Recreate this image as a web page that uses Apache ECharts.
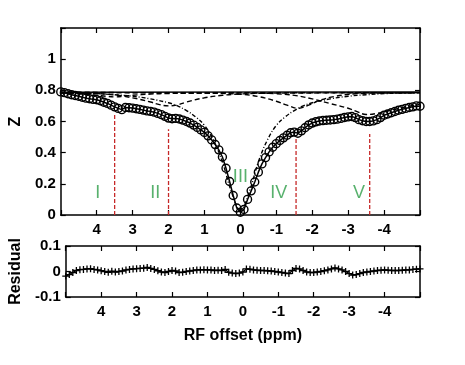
<!DOCTYPE html>
<html>
<head>
<meta charset="utf-8">
<script src="https://cdn.jsdelivr.net/npm/echarts@6/dist/echarts.min.js"></script>
<style>
  html, body { margin: 0; padding: 0; background: #fff; }
  #main { width: 465px; height: 365px; }
</style>
</head>
<body>
<div id="main"></div>
<script>
// RF offsets (ppm), sampled every 0.1 ppm from 5 to -5
var offsets = [5.0,4.9,4.8,4.7,4.6,4.5,4.4,4.3,4.2,4.1,4.0,3.9,3.8,3.7,3.6,3.5,3.4,3.3,3.2,3.1,
  3.0,2.9,2.8,2.7,2.6,2.5,2.4,2.3,2.2,2.1,2.0,1.9,1.8,1.7,1.6,1.5,1.4,1.3,1.2,1.1,
  1.0,0.9,0.8,0.7,0.6,0.5,0.4,0.3,0.2,0.1,0.0,-0.1,-0.2,-0.3,-0.4,-0.5,-0.6,-0.7,-0.8,-0.9,
  -1.0,-1.1,-1.2,-1.3,-1.4,-1.5,-1.6,-1.7,-1.8,-1.9,-2.0,-2.1,-2.2,-2.3,-2.4,-2.5,-2.6,-2.7,-2.8,-2.9,
  -3.0,-3.1,-3.2,-3.3,-3.4,-3.5,-3.6,-3.7,-3.8,-3.9,-4.0,-4.1,-4.2,-4.3,-4.4,-4.5,-4.6,-4.7,-4.8,-4.9,-5.0];

// measured Z spectrum (circles)
var zMeasured = [0.790,0.785,0.778,0.772,0.767,0.762,0.756,0.750,0.746,0.742,
  0.740,0.733,0.724,0.716,0.705,0.694,0.684,0.676,0.690,0.688,
  0.686,0.682,0.678,0.673,0.668,0.665,0.660,0.652,0.644,0.633,
  0.622,0.618,0.620,0.616,0.609,0.600,0.590,0.577,0.562,0.546,
  0.530,0.508,0.482,0.452,0.418,0.372,0.300,0.215,0.125,0.045,
  0.018,0.035,0.100,0.155,0.212,0.275,0.328,0.368,0.405,0.435,
  0.458,0.478,0.495,0.512,0.528,0.532,0.525,0.540,0.560,0.578,
  0.590,0.598,0.603,0.606,0.608,0.610,0.612,0.615,0.620,0.626,
  0.630,0.632,0.625,0.612,0.605,0.600,0.600,0.604,0.612,0.625,
  0.640,0.648,0.656,0.664,0.672,0.678,0.684,0.690,0.694,0.700,0.698];

// fit residual (plus markers)
var residual = [-0.018,-0.012,-0.004,0.004,0.007,0.008,0.010,0.011,0.008,0.006,
  0.003,0.000,-0.003,0.001,-0.002,0.000,0.002,0.006,0.008,0.010,
  0.011,0.012,0.013,0.016,0.012,0.008,0.003,-0.002,-0.004,0.000,
  0.004,0.002,-0.004,-0.003,0.000,0.002,0.004,0.006,0.006,0.007,
  0.006,0.006,0.004,0.005,0.004,0.008,-0.003,-0.006,-0.008,-0.006,
  -0.002,0.010,0.009,0.006,0.005,0.004,0.004,0.003,0.002,0.000,
  -0.002,-0.004,-0.006,-0.008,0.004,0.012,0.010,0.004,-0.002,-0.004,
  -0.004,-0.002,0.000,0.003,0.006,0.010,0.014,0.010,0.006,0.000,
  -0.008,-0.014,-0.012,-0.008,-0.004,-0.002,0.000,0.002,0.004,0.005,
  0.006,0.005,0.004,0.004,0.004,0.005,0.006,0.006,0.008,0.009,0.010];

// individual pool fits [offset, Z]
var baseline = [[5, 0.788], [-5, 0.790]];
var poolI = [[5,0.782],[4.5,0.777],[4,0.768],[3.75,0.762],[3.5,0.758],[3.25,0.762],[3,0.768],[2.5,0.776],[2,0.780],[1,0.783],[0,0.784],[-5,0.785]];
var poolII = [[5,0.784],[4,0.779],[3.5,0.770],[3,0.752],[2.5,0.725],[2.25,0.708],[2,0.700],[1.75,0.707],[1.5,0.725],[1,0.752],[0.5,0.768],[0,0.777],[-1,0.782],[-5,0.785]];
var poolIII = [[5,0.784],[4.5,0.782],[4,0.779],[3.5,0.772],[3,0.762],[2.5,0.745],[2,0.720],[1.75,0.700],[1.5,0.670],[1.25,0.630],[1,0.575],[0.75,0.480],[0.5,0.340],[0.25,0.150],[0,0.030],
  [-0.25,0.150],[-0.5,0.340],[-0.75,0.480],[-1,0.575],[-1.25,0.630],[-1.5,0.670],[-1.75,0.700],[-2,0.720],[-2.5,0.745],[-3,0.762],[-3.5,0.772],[-4,0.779],[-4.5,0.782],[-5,0.784]];
var poolIV = [[5,0.786],[1,0.782],[0,0.775],[-0.5,0.760],[-1,0.730],[-1.3,0.705],[-1.6,0.685],[-1.9,0.705],[-2.2,0.735],[-2.6,0.760],[-3.2,0.778],[-4,0.783],[-5,0.785]];
var poolV = [[5,0.786],[0,0.784],[-0.5,0.782],[-1,0.778],[-1.5,0.768],[-2,0.745],[-2.5,0.715],[-3,0.685],[-3.25,0.663],[-3.5,0.645],[-3.75,0.650],[-4,0.662],[-4.5,0.688],[-5,0.712]];

// pool markers
var refOffsets = [3.5, 2.0, -1.55, -3.6];
var refTops = [0.645, 0.55, 0.50, 0.52];
var poolNames = ['I', 'II', 'III', 'IV', 'V'];
var poolLabelX = [3.97, 2.37, 0, -1.07, -3.3];
var poolLabelY = [0.14, 0.14, 0.245, 0.14, 0.14];

var FONT = 'Liberation Sans';
var black = '#000';

function xAx(grid, pos, labels, name) {
    return {
        type: 'value', gridIndex: grid, position: pos, min: -5, max: 5, interval: 1, inverse: true,
        axisLine: { show: true, onZero: false, lineStyle: { color: black, width: 1.5 } },
        axisTick: { show: true, inside: true, length: 5, lineStyle: { color: black, width: 1.2 } },
        splitLine: { show: false },
        axisLabel: {
            show: labels, margin: 7, color: black, fontFamily: FONT, fontWeight: 'bold', fontSize: 15,
            formatter: function (v) { return Math.abs(v) > 4.5 ? '' : String(v); }
        },
        name: name || '', nameLocation: 'middle', nameGap: 31,
        nameTextStyle: { color: black, fontFamily: FONT, fontWeight: 'bold', fontSize: 16 }
    };
}
function yAx(grid, pos, min, max, step, labels, name, gap, hideTop) {
    return {
        type: 'value', gridIndex: grid, position: pos, min: min, max: max, interval: step,
        axisLine: { show: true, onZero: false, lineStyle: { color: black, width: 1.5 } },
        axisTick: { show: true, inside: true, length: 5, lineStyle: { color: black, width: 1.2 } },
        splitLine: { show: false },
        axisLabel: {
            show: labels, margin: 5, color: black, fontFamily: FONT, fontWeight: 'bold', fontSize: 15,
            formatter: function (v) { return (hideTop && v > 1.1) ? '' : String(Math.round(v * 10) / 10); }
        },
        name: name || '', nameLocation: 'middle', nameGap: gap || 0, nameRotate: 90,
        nameTextStyle: { color: black, fontFamily: FONT, fontWeight: 'bold', fontSize: 16 }
    };
}

function dashed(data, dash) {
    return {
        type: 'line', xAxisIndex: 0, yAxisIndex: 0, data: data, smooth: 0.4, symbol: 'none',
        lineStyle: { color: black, width: 1.4, type: dash }, z: 2
    };
}

var series = [];
series.push({ type: 'line', xAxisIndex: 0, yAxisIndex: 0, data: baseline, symbol: 'none',
    lineStyle: { color: black, width: 1.4 } });
series.push(dashed(poolI, [5, 3]));
series.push(dashed(poolII, [5, 3]));
series.push(dashed(poolIII, [4, 2, 1, 2]));
series.push(dashed(poolIV, [5, 3]));
series.push(dashed(poolV, [5, 3]));

series.push({
    type: 'line', xAxisIndex: 0, yAxisIndex: 0, z: 3,
    data: offsets.map(function (x, i) { return [x, zMeasured[i]]; }),
    symbol: 'circle', symbolSize: 8, showAllSymbol: true,
    itemStyle: { color: 'rgba(0,0,0,0)', borderColor: black, borderWidth: 1.4 },
    lineStyle: { color: black, width: 1.5 }
});

refOffsets.forEach(function (x, i) {
    series.push({
        type: 'line', xAxisIndex: 0, yAxisIndex: 0, symbol: 'none', z: 1,
        data: [[x, 0], [x, refTops[i]]],
        lineStyle: { color: '#c62828', width: 1.3, type: [4, 2] }
    });
});

series.push({
    type: 'scatter', xAxisIndex: 0, yAxisIndex: 0, symbolSize: 0, z: 4,
    data: poolNames.map(function (n, i) { return [poolLabelX[i], poolLabelY[i], n]; }),
    label: {
        show: true, position: 'inside', color: '#2e9e48', fontFamily: FONT, fontSize: 18,
        formatter: function (p) { return p.value[2]; }
    }
});

series.push({
    type: 'line', xAxisIndex: 2, yAxisIndex: 2,
    data: offsets.map(function (x, i) { return [x, residual[i]]; }),
    symbol: 'path://M0,5L10,5M5,0L5,10', symbolSize: 7, showAllSymbol: true,
    itemStyle: { color: 'rgba(0,0,0,0)', borderColor: black, borderWidth: 1.3 },
    lineStyle: { color: black, width: 1.2 }
});

var chart = echarts.init(document.getElementById('main'), null, { renderer: 'canvas' });
chart.setOption({
    animation: false,
    backgroundColor: '#fff',
    grid: [
        { left: 60, right: 45, top: 28, height: 187 },
        { left: 60, right: 45, top: 246, height: 51 }
    ],
    xAxis: [
        xAx(0, 'bottom', true),
        xAx(0, 'top', false),
        xAx(1, 'bottom', true, 'RF offset (ppm)'),
        xAx(1, 'top', false)
    ],
    yAxis: [
        yAx(0, 'left', 0, 1.2, 0.2, true, 'Z', 34, true),
        yAx(0, 'right', 0, 1.2, 0.2, false),
        yAx(1, 'left', -0.1, 0.1, 0.1, true, 'Residual', 38),
        yAx(1, 'right', -0.1, 0.1, 0.1, false)
    ],
    series: series
});
</script>
</body>
</html>
